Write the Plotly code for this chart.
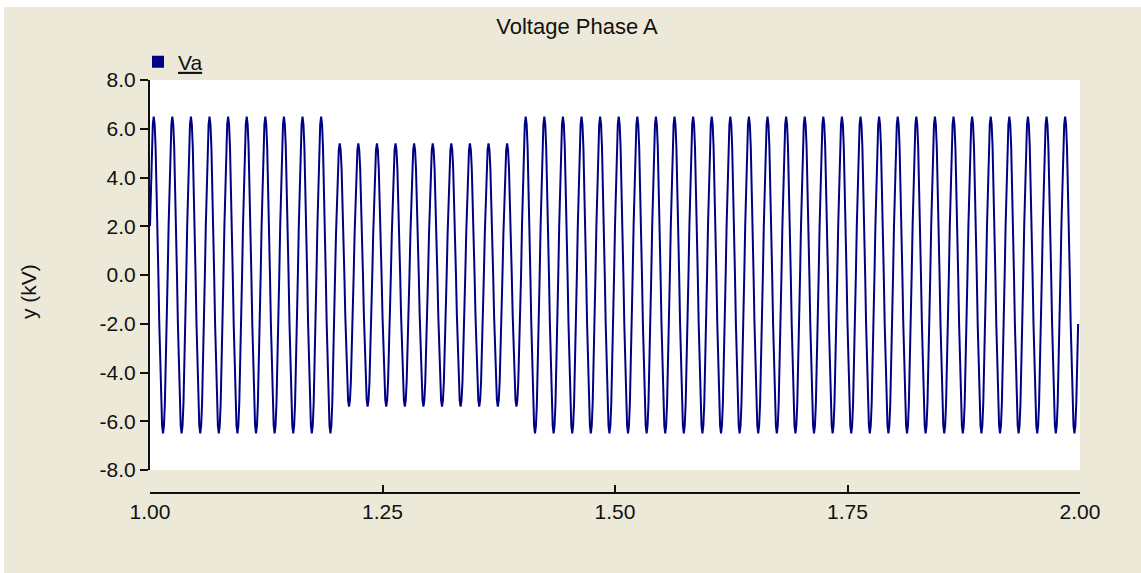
import numpy as np
import plotly.graph_objects as go

# Phase A voltage, 1 ms plot step, 50 Hz
SAMPLE_STEP_S = 0.001
T_START, T_END = 1.000, 1.998
FREQ_HZ = 50.0
PHASE_DEG = 18.0

# Peak voltage (kV) of each of the 50 cycles between 1.00 s and 2.00 s
cycle_peak_kv = [
    6.5, 6.5, 6.5, 6.5, 6.5, 6.5, 6.5, 6.5, 6.5, 6.5,
    5.4, 5.4, 5.4, 5.4, 5.4, 5.4, 5.4, 5.4, 5.4, 5.4,
    6.5, 6.5, 6.5, 6.5, 6.5, 6.5, 6.5, 6.5, 6.5, 6.5,
    6.5, 6.5, 6.5, 6.5, 6.5, 6.5, 6.5, 6.5, 6.5, 6.5,
    6.5, 6.5, 6.5, 6.5, 6.5, 6.5, 6.5, 6.5, 6.5, 6.5,
]

x_tick_vals = [1.00, 1.25, 1.50, 1.75, 2.00]
x_tick_text = ["1.00", "1.25", "1.50", "1.75", "2.00"]
y_tick_vals = [8.0, 6.0, 4.0, 2.0, 0.0, -2.0, -4.0, -6.0, -8.0]
y_tick_text = ["8.0", "6.0", "4.0", "2.0", "0.0", "-2.0", "-4.0", "-6.0", "-8.0"]

n = int(round((T_END - T_START) / SAMPLE_STEP_S)) + 1
t = T_START + SAMPLE_STEP_S * np.arange(n)
cycle_idx = np.minimum(((t - T_START) * FREQ_HZ + 1e-9).astype(int), len(cycle_peak_kv) - 1)
peak = np.asarray(cycle_peak_kv)[cycle_idx]
va = peak * np.sin(2 * np.pi * FREQ_HZ * (t - T_START) + np.deg2rad(PHASE_DEG))

BEIGE = "#ECE9D8"
NAVY = "#000085"
FONT = "Liberation Sans, Arial, sans-serif"

W, H = 1141, 573
ML, MR, MT, MB = 150, 61, 80, 80
plot_w = W - ML - MR
plot_h = H - MT - MB
y_dom_low = 23 / plot_h

fig = go.Figure()
fig.add_trace(go.Scatter(
    x=t, y=va, mode="lines",
    line=dict(color=NAVY, width=2),
    showlegend=False, name="Va",
))
# legend entry drawn as a filled square
fig.add_trace(go.Scatter(
    x=[None], y=[None], mode="markers",
    marker=dict(symbol="square", size=12, color=NAVY),
    name="<u>Va</u>", showlegend=True,
))

fig.update_layout(
    width=W, height=H,
    margin=dict(l=ML, r=MR, t=MT, b=MB, pad=0),
    paper_bgcolor=BEIGE,
    plot_bgcolor="white",
    font=dict(family=FONT, size=21, color="#111111"),
    title=dict(
        text="Voltage Phase A",
        font=dict(family=FONT, size=22, color="#111111"),
        xref="container", yref="container",
        x=577 / W, y=1 - 26 / H, xanchor="center", yanchor="middle",
    ),
    xaxis=dict(
        range=[1.0, 2.0],
        anchor="free", position=0,
        showgrid=False, zeroline=False,
        showline=True, linecolor="#111111", linewidth=1.5,
        ticks="inside", ticklen=7, tickwidth=1.5, tickcolor="#111111",
        tickvals=x_tick_vals, ticktext=x_tick_text,
        tickfont=dict(size=21),
    ),
    yaxis=dict(
        domain=[y_dom_low, 1],
        range=[-8.0, 8.0],
        showgrid=False, zeroline=False,
        showline=True, linecolor="#111111", linewidth=2,
        ticks="outside", ticklen=8, tickwidth=1.5, tickcolor="#111111",
        tickvals=y_tick_vals, ticktext=y_tick_text,
        tickfont=dict(size=21),
    ),
    legend=dict(
        x=(138 - ML) / plot_w, y=(H - MB - 62) / plot_h,
        xanchor="left", yanchor="middle",
        bgcolor="rgba(0,0,0,0)", borderwidth=0,
        font=dict(size=21, color="#111111"),
        itemwidth=30,
    ),
    annotations=[dict(
        text="y (kV)", textangle=-90,
        xref="paper", yref="paper",
        x=(28 - ML) / plot_w, y=(H - MB - 291) / plot_h,
        xanchor="center", yanchor="middle", showarrow=False,
        font=dict(size=21, color="#111111"),
    )],
    shapes=[
        dict(type="rect", xref="paper", yref="paper", layer="below",
             x0=-ML / plot_w, x1=(W - ML) / plot_w,
             y0=(H - MB - 7) / plot_h, y1=(H - MB) / plot_h,
             fillcolor="white", line=dict(width=0)),
        dict(type="rect", xref="paper", yref="paper", layer="below",
             x0=-ML / plot_w, x1=(4 - ML) / plot_w,
             y0=-MB / plot_h, y1=(H - MB) / plot_h,
             fillcolor="white", line=dict(width=0)),
    ],
)

fig.write_html("out.html")
